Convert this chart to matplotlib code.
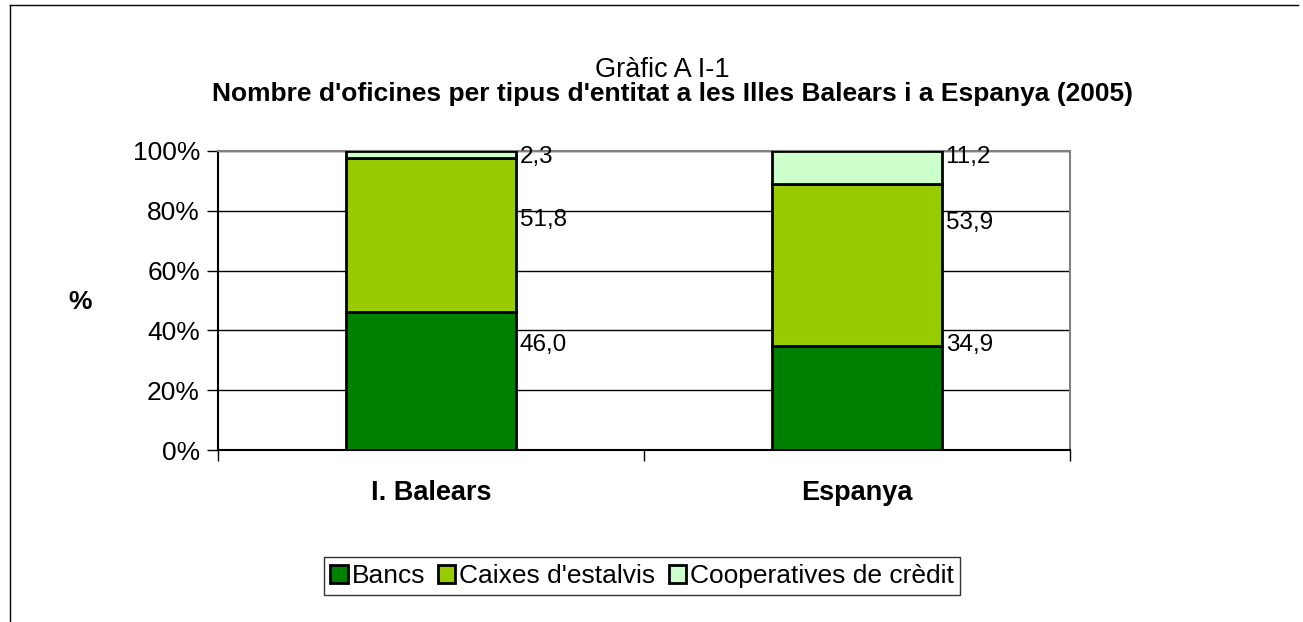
import matplotlib

matplotlib.use("Agg")
import matplotlib.pyplot as plt
from matplotlib.lines import Line2D
from matplotlib.ticker import FuncFormatter

plt.rcParams["font.family"] = ["Liberation Sans", "DejaVu Sans"]

CATEGORIES = ["I. Balears", "Espanya"]
SERIES = ["Bancs", "Caixes d'estalvis", "Cooperatives de crèdit"]
BANCS = [46.0, 34.9]
CAIXES = [51.8, 53.9]
COOPS = [2.3, 11.2]
COLORS = ["#008000", "#99cc00", "#ccffcc"]
# where the value labels sit (percent of axis)
LABEL_Y = {"Bancs": [35.0, 35.0], "Caixes d'estalvis": [77.0, 76.0],
           "Cooperatives de crèdit": [98.0, 98.0]}

fig = plt.figure(figsize=(13.03, 6.22), dpi=100)
ax = fig.add_axes([218 / 1303, 1 - 450 / 622, 852 / 1303, 299 / 622])

x = range(len(CATEGORIES))
bottom = [0.0, 0.0]
for name, vals, col in zip(SERIES, [BANCS, CAIXES, COOPS], COLORS):
    bars = ax.bar(x, vals, 0.4, bottom=bottom, color=col, edgecolor="black",
                  linewidth=2, label=name, zorder=3)
    for b, v, ly in zip(bars, vals, LABEL_Y[name]):
        ax.text(b.get_x() + b.get_width() + 0.008, ly, f"{v:.1f}".replace(".", ","),
                ha="left", va="center", fontsize=17.5, zorder=4)
    bottom = [a + v for a, v in zip(bottom, vals)]

ax.set_xlim(-0.5, 1.5)
ax.set_ylim(0, 100)
ax.set_yticks(range(0, 101, 20))
ax.yaxis.set_major_formatter(FuncFormatter(lambda v, p: f"{v:.0f}%"))
ax.set_xticks([-0.5, 0.5, 1.5], minor=False)
ax.set_xticklabels([])
for i, c in enumerate(CATEGORIES):
    ax.text(i, -0.1, c, transform=ax.get_xaxis_transform(), ha="center",
            va="top", fontsize=19.5, fontweight="bold")
ax.tick_params(axis="y", labelsize=19, length=8, width=1, color="black", pad=5)
ax.tick_params(axis="x", length=8, width=1, color="black", direction="out")
ax.yaxis.grid(True, color="black", linewidth=1)
ax.set_axisbelow(True)
ax.spines["left"].set_color("black")
ax.spines["bottom"].set_color("black")
ax.spines["top"].set_color("#808080")
ax.spines["right"].set_color("#808080")
for sp in ax.spines.values():
    sp.set_linewidth(1.5)

fig.text(80 / 1303, 1 - 302 / 622, "%", ha="center", va="center",
         fontsize=19, fontweight="bold")
fig.text(662 / 1303, 1 - 77 / 622, "Gràfic A I-1", ha="center", va="baseline",
         fontsize=19.5)
fig.text(672 / 1303, 1 - 94 / 622,
         "Nombre d'oficines per tipus d'entitat a les Illes Balears i a Espanya (2005)",
         ha="center", va="center", fontsize=19, fontweight="bold")

leg = fig.legend(loc="center", bbox_to_anchor=(642 / 1303, 1 - 576 / 622),
                 ncol=3, fontsize=19, frameon=True, fancybox=False,
                 handlelength=0.65, handleheight=0.65, handletextpad=0.15,
                 columnspacing=0.5, borderpad=0.25)
leg.get_frame().set_edgecolor("black")
leg.get_frame().set_linewidth(1)

# outer chart frame (only left and top edges visible in the reference)
fig.add_artist(Line2D([10 / 1303, 10 / 1303], [0, 1 - 5 / 622], color="black",
                      linewidth=1, transform=fig.transFigure))
fig.add_artist(Line2D([10 / 1303, 1298 / 1303], [1 - 5 / 622, 1 - 5 / 622],
                      color="black", linewidth=1, transform=fig.transFigure))

fig.savefig("out.png", dpi=100)
